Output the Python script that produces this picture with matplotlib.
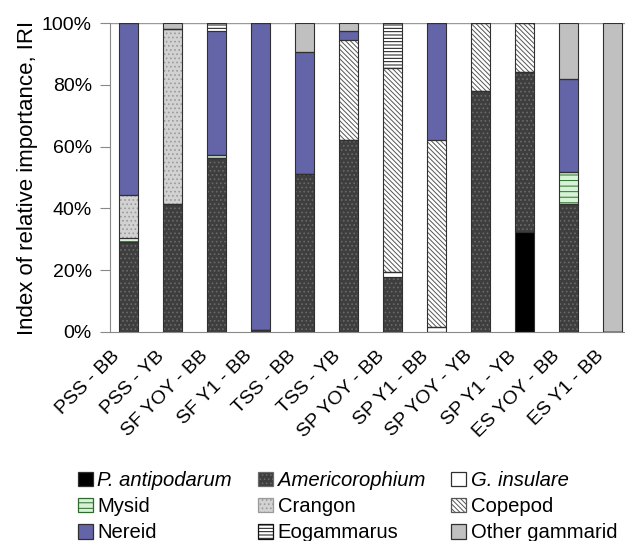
import matplotlib
matplotlib.use("Agg")
import matplotlib.pyplot as plt
from matplotlib.patches import Patch
from matplotlib.transforms import ScaledTranslation
import numpy as np

plt.rcParams['font.family'] = ['Liberation Sans', 'DejaVu Sans']
plt.rcParams['hatch.linewidth'] = 0.7

categories = ["PSS - BB", "PSS - YB", "SF YOY - BB", "SF Y1 - BB", "TSS - BB", "TSS - YB",
              "SP YOY - BB", "SP Y1 - BB", "SP YOY - YB", "SP Y1 - YB", "ES YOY - BB", "ES Y1 - BB"]

p_antipodarum  = [0,    0,    0,    0,    0,    0,    0,    0,    0,    32.3, 0,    0]
americorophium = [29.0, 41.4, 56.3, 0.8,  51.1, 62.0, 17.9, 0,    78.1, 51.9, 41.4, 0]
g_insulare     = [0,    0,    0,    0,    0,    0,    1.6,  1.5,  0,    0,    0,    0]
mysid          = [1.3,  0,    1.1,  0,    0,    0,    0,    0,    0,    0,    10.3, 0]
crangon        = [14.0, 56.6, 0,    0,    0,    0,    0,    0,    0,    0,    0,    0]
copepod        = [0,    0,    0,    0,    0,    32.4, 66.0, 60.6, 21.9, 15.8, 0,    0]
nereid         = [55.7, 0,    40.1, 99.2, 39.4, 3.1,  0,    37.9, 0,    0,    30.2, 0]
eogammarus     = [0,    0,    2.5,  0,    0,    0,    14.5, 0,    0,    0,    0,    0]
other_gammarid = [0,    2.0,  0,    0,    9.5,  2.5,  0,    0,    0,    0,    18.1, 100]

series = [
    ("P. antipodarum", p_antipodarum, "#000000", None, None),
    ("Americorophium", americorophium, "#3e3e3e", "....", "#6a6a6a"),
    ("G. insulare", g_insulare, "#ffffff", None, None),
    ("Mysid", mysid, "#d6f3d6", "---", "#2f6a2f"),
    ("Crangon", crangon, "#d2d2d2", "....", "#9a9a9a"),
    ("Copepod", copepod, "#ffffff", "\\\\\\\\\\\\\\", "#555555"),
    ("Nereid", nereid, "#6465a8", None, None),
    ("Eogammarus", eogammarus, "#ffffff", "-----", "#111111"),
    ("Other gammarid", other_gammarid, "#c0c0c0", None, None),
]

fig = plt.figure(figsize=(6.25, 5.41), dpi=100)
ax = fig.add_axes([110/625, 1-332/541, 1-110/625, (332-23)/541])

x = np.arange(len(categories))
width = 0.43
bottom = np.zeros(len(categories))
handles = {}
for name, vals, fc, hatch, hc in series:
    vals = np.array(vals, dtype=float)
    ax.bar(x, vals, width, bottom=bottom, color=fc, edgecolor='none', linewidth=0, zorder=2)
    if hatch:
        ax.bar(x, vals, width, bottom=bottom, color='none', edgecolor=hc, hatch=hatch,
               linewidth=0, zorder=3)
    ax.bar(x, vals, width, bottom=bottom, color='none', edgecolor='#303030',
           linewidth=0.8, zorder=4)
    bottom += vals
    if hatch:
        handles[name] = Patch(facecolor=fc, edgecolor=hc, hatch=hatch, linewidth=0.9)
    else:
        handles[name] = Patch(facecolor=fc, edgecolor='#303030', linewidth=0.9)

ax.set_xlim(-0.42, 11.28)
ax.set_ylim(0, 100)
ax.axhline(100, color='#999999', linewidth=1.0, zorder=1)
ax.set_yticks([0, 20, 40, 60, 80, 100])
ax.set_yticklabels([f"{v}%" for v in [0, 20, 40, 60, 80, 100]], fontsize=14)
ax.tick_params(axis='y', direction='out', length=7, color='#888888', pad=6)
ax.tick_params(axis='x', length=0)
ax.set_xticks(x)
ax.set_xticklabels(categories, rotation=45, ha='right', va='center',
                   rotation_mode='anchor', fontsize=14)
offset = ScaledTranslation(-8/72, -12/72, fig.dpi_scale_trans)
for lbl in ax.get_xticklabels():
    lbl.set_transform(lbl.get_transform() + offset)

for s in ['top', 'right']:
    ax.spines[s].set_visible(False)
ax.spines['left'].set_color('#888888')
ax.spines['bottom'].set_color('#888888')
ax.set_ylabel("Index of relative importance, IRI", fontsize=16, labelpad=2.5)

order = ["P. antipodarum", "Mysid", "Nereid", "Americorophium", "Crangon", "Eogammarus",
         "G. insulare", "Copepod", "Other gammarid"]
leg = fig.legend([handles[n] for n in order], order, ncol=3, loc='upper left',
                 bbox_to_anchor=(78/625, 1-471/541), frameon=False, fontsize=14.6,
                 handlelength=0.75, handleheight=0.75, handletextpad=0.2,
                 columnspacing=1.3, labelspacing=0.35, borderaxespad=0, borderpad=0)
for t in leg.get_texts():
    if t.get_text() in ("P. antipodarum", "Americorophium", "G. insulare"):
        t.set_style('italic')

fig.savefig("out.png", dpi=100)
